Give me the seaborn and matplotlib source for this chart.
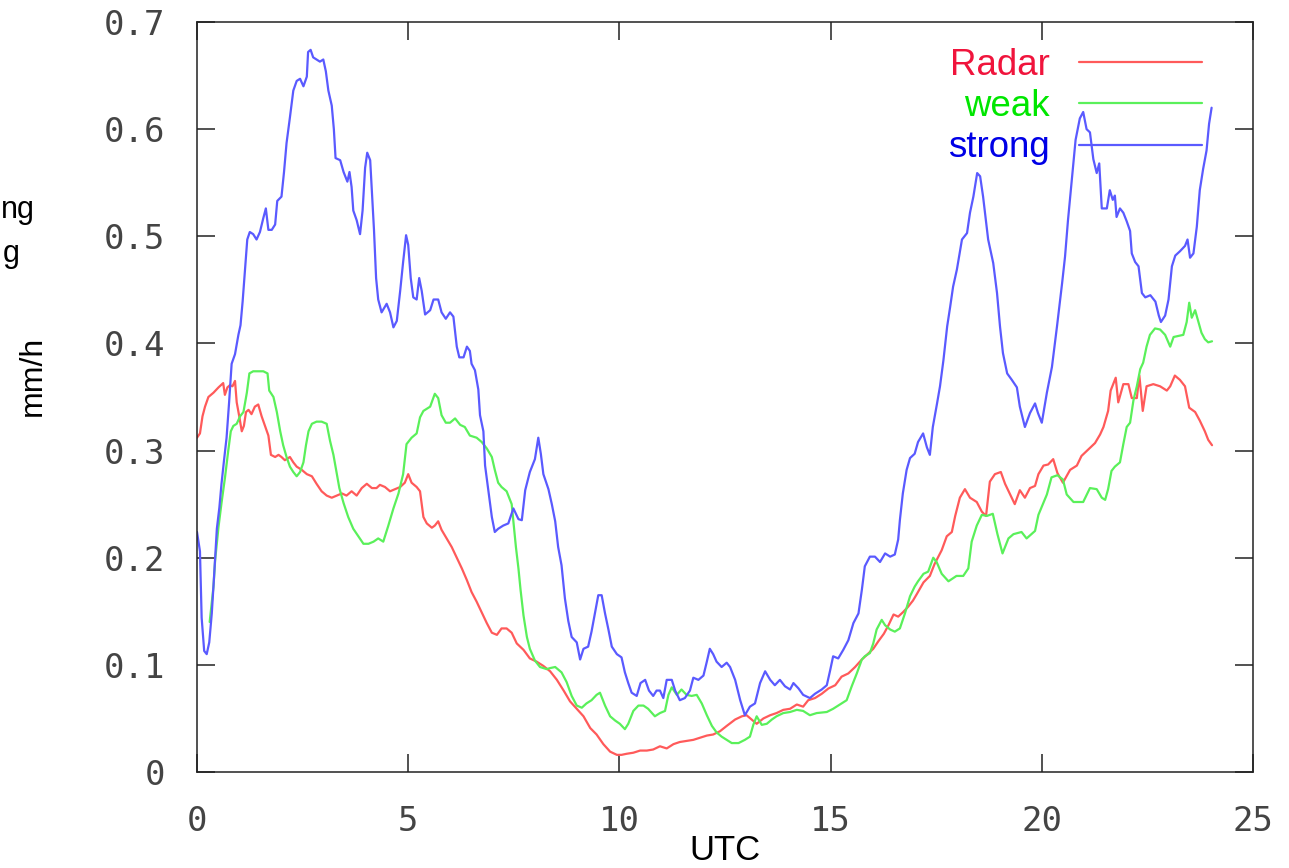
import matplotlib
matplotlib.use("Agg")
import numpy as np
import pandas as pd
import matplotlib.pyplot as plt
import seaborn as sns

# ---- data: hourly-smoothed precipitation rate (mm/h) versus time (UTC) ----
radar_t = [0.00, 0.07, 0.13, 0.19, 0.27, 0.39, 0.51, 0.62, 0.66, 0.72, 0.78, 0.84, 0.90, 0.94,
           1.00, 1.06, 1.11, 1.16, 1.22, 1.29, 1.37, 1.45, 1.53, 1.61, 1.69, 1.75, 1.85, 1.93,
           2.00, 2.08, 2.20, 2.28, 2.36, 2.48, 2.60, 2.72, 2.83, 2.95, 3.07, 3.19, 3.31, 3.43,
           3.54, 3.66, 3.78, 3.90, 4.02, 4.14, 4.25, 4.33, 4.45, 4.57, 4.69, 4.81, 4.92, 5.00,
           5.08, 5.20, 5.28, 5.36, 5.44, 5.56, 5.63, 5.71, 5.79, 5.91, 6.03, 6.15, 6.27, 6.39,
           6.50, 6.62, 6.74, 6.86, 6.98, 7.10, 7.21, 7.33, 7.45, 7.57, 7.73, 7.88, 8.04, 8.20,
           8.36, 8.52, 8.68, 8.83, 8.99, 9.15, 9.31, 9.46, 9.62, 9.78, 9.94, 10.05, 10.17, 10.33,
           10.49, 10.65, 10.80, 10.96, 11.12, 11.28, 11.43, 11.59, 11.75, 11.91, 12.07, 12.22,
           12.38, 12.54, 12.74, 12.90, 13.01, 13.13, 13.25, 13.41, 13.57, 13.72, 13.88, 14.04,
           14.20, 14.35, 14.47, 14.63, 14.79, 14.95, 15.11, 15.26, 15.42, 15.58, 15.74, 15.85,
           16.01, 16.13, 16.26, 16.37, 16.49, 16.60, 16.71, 16.83, 16.95, 17.04, 17.20, 17.35,
           17.46, 17.63, 17.75, 17.87, 17.95, 18.06, 18.18, 18.30, 18.46, 18.58, 18.68, 18.77,
           18.89, 19.03, 19.13, 19.25, 19.36, 19.48, 19.60, 19.72, 19.84, 19.92, 20.04, 20.15,
           20.27, 20.37, 20.50, 20.67, 20.83, 20.94, 21.10, 21.26, 21.38, 21.46, 21.57, 21.63,
           21.69, 21.75, 21.81, 21.93, 22.05, 22.13, 22.25, 22.31, 22.39, 22.48, 22.64, 22.80,
           22.96, 23.04, 23.15, 23.27, 23.39, 23.49, 23.63, 23.74, 23.86, 23.94, 24.03]
radar_v = [0.312, 0.316, 0.332, 0.341, 0.350, 0.354, 0.359, 0.363, 0.352, 0.359, 0.361, 0.360, 0.365, 0.345,
           0.332, 0.318, 0.323, 0.336, 0.338, 0.334, 0.341, 0.343, 0.332, 0.323, 0.314, 0.296, 0.294, 0.296,
           0.294, 0.291, 0.294, 0.289, 0.285, 0.282, 0.278, 0.276, 0.269, 0.262, 0.258, 0.256, 0.258, 0.260,
           0.258, 0.262, 0.258, 0.265, 0.269, 0.265, 0.265, 0.268, 0.266, 0.262, 0.264, 0.266, 0.270, 0.278,
           0.270, 0.266, 0.262, 0.238, 0.232, 0.228, 0.230, 0.234, 0.226, 0.218, 0.210, 0.200, 0.190, 0.179,
           0.168, 0.159, 0.149, 0.139, 0.130, 0.128, 0.134, 0.134, 0.130, 0.120, 0.114, 0.106, 0.103, 0.099,
           0.094, 0.086, 0.076, 0.066, 0.059, 0.052, 0.041, 0.035, 0.026, 0.019, 0.016, 0.016, 0.017, 0.018,
           0.020, 0.020, 0.021, 0.024, 0.022, 0.026, 0.028, 0.029, 0.030, 0.032, 0.034, 0.035,
           0.038, 0.043, 0.049, 0.052, 0.053, 0.049, 0.045, 0.050, 0.053, 0.055, 0.058, 0.059,
           0.063, 0.061, 0.067, 0.069, 0.073, 0.078, 0.081, 0.089, 0.092, 0.098, 0.105, 0.109,
           0.115, 0.122, 0.129, 0.137, 0.147, 0.145, 0.149, 0.154, 0.160, 0.166, 0.177, 0.183,
           0.194, 0.207, 0.220, 0.224, 0.239, 0.256, 0.264, 0.256, 0.252, 0.243, 0.239, 0.271,
           0.278, 0.280, 0.269, 0.259, 0.250, 0.263, 0.256, 0.265, 0.267, 0.278, 0.286, 0.287,
           0.292, 0.279, 0.270, 0.282, 0.286, 0.295, 0.301, 0.307, 0.315, 0.322, 0.337, 0.356,
           0.362, 0.368, 0.345, 0.362, 0.362, 0.349, 0.349, 0.370, 0.337, 0.360, 0.362, 0.360,
           0.356, 0.360, 0.370, 0.366, 0.360, 0.340, 0.336, 0.328, 0.318, 0.310, 0.305]

weak_t = [0.30, 0.39, 0.43, 0.51, 0.58, 0.66, 0.74, 0.80, 0.86, 0.94, 1.02, 1.10, 1.18, 1.24,
          1.33, 1.45, 1.57, 1.67, 1.71, 1.81, 1.89, 1.97, 2.04, 2.12, 2.20, 2.28, 2.36, 2.44,
          2.52, 2.58, 2.64, 2.72, 2.83, 2.95, 3.07, 3.15, 3.23, 3.31, 3.37, 3.47, 3.58, 3.70,
          3.82, 3.94, 4.06, 4.18, 4.29, 4.41, 4.53, 4.65, 4.77, 4.88, 4.96, 5.08, 5.20, 5.28,
          5.36, 5.52, 5.63, 5.71, 5.79, 5.89, 5.99, 6.11, 6.23, 6.34, 6.46, 6.62, 6.74, 6.86,
          6.98, 7.05, 7.13, 7.21, 7.33, 7.45, 7.50, 7.55, 7.61, 7.66, 7.73, 7.81, 7.88, 8.00,
          8.12, 8.28, 8.36, 8.48, 8.63, 8.75, 8.87, 8.99, 9.11, 9.22, 9.34, 9.46, 9.54, 9.66,
          9.78, 9.90, 10.01, 10.13, 10.21, 10.33, 10.45, 10.57, 10.68, 10.84, 10.96, 11.08,
          11.16, 11.24, 11.36, 11.47, 11.59, 11.71, 11.83, 11.95, 12.07, 12.19, 12.30, 12.42,
          12.54, 12.66, 12.82, 12.97, 13.09, 13.17, 13.25, 13.37, 13.49, 13.61, 13.72, 13.88,
          14.04, 14.20, 14.35, 14.51, 14.67, 14.91, 15.06, 15.22, 15.38, 15.50, 15.62, 15.74,
          15.81, 15.93, 16.01, 16.09, 16.21, 16.29, 16.41, 16.52, 16.64, 16.76, 16.88, 16.99,
          17.07, 17.20, 17.31, 17.43, 17.51, 17.63, 17.79, 17.98, 18.14, 18.26, 18.34, 18.46,
          18.58, 18.70, 18.84, 18.95, 19.07, 19.21, 19.33, 19.52, 19.64, 19.84, 19.92, 20.12,
          20.23, 20.37, 20.50, 20.59, 20.75, 20.98, 21.14, 21.30, 21.42, 21.50, 21.57, 21.65,
          21.73, 21.85, 21.93, 22.01, 22.09, 22.17, 22.25, 22.33, 22.40, 22.48, 22.56, 22.68,
          22.80, 22.92, 23.04, 23.12, 23.23, 23.35, 23.43, 23.49, 23.55, 23.63, 23.71, 23.78,
          23.86, 23.94, 24.03]
weak_v = [0.140, 0.173, 0.198, 0.229, 0.251, 0.274, 0.300, 0.318, 0.323, 0.325, 0.332, 0.336, 0.354, 0.372,
          0.374, 0.374, 0.374, 0.372, 0.356, 0.350, 0.336, 0.318, 0.305, 0.294, 0.285, 0.280, 0.276, 0.280,
          0.289, 0.305, 0.318, 0.325, 0.327, 0.327, 0.325, 0.309, 0.296, 0.278, 0.265, 0.251, 0.238, 0.227,
          0.220, 0.213, 0.213, 0.215, 0.218, 0.215, 0.230, 0.246, 0.260, 0.278, 0.306, 0.312, 0.316, 0.331,
          0.337, 0.341, 0.353, 0.349, 0.333, 0.326, 0.326, 0.330, 0.324, 0.322, 0.314, 0.312, 0.308, 0.302,
          0.294, 0.282, 0.270, 0.266, 0.262, 0.250, 0.230, 0.210, 0.190, 0.170, 0.146, 0.126, 0.115, 0.104,
          0.098, 0.096, 0.097, 0.098, 0.093, 0.084, 0.071, 0.062, 0.060, 0.064, 0.067, 0.072, 0.074, 0.062,
          0.052, 0.048, 0.045, 0.040, 0.045, 0.057, 0.062, 0.062, 0.059, 0.052, 0.055, 0.057,
          0.072, 0.079, 0.072, 0.077, 0.072, 0.071, 0.072, 0.064, 0.053, 0.043, 0.037, 0.033,
          0.030, 0.027, 0.027, 0.030, 0.033, 0.044, 0.052, 0.044, 0.045, 0.049, 0.052, 0.055,
          0.056, 0.058, 0.057, 0.053, 0.055, 0.056, 0.059, 0.063, 0.067, 0.080, 0.092, 0.105,
          0.108, 0.111, 0.120, 0.133, 0.142, 0.137, 0.133, 0.131, 0.134, 0.148, 0.164, 0.173,
          0.178, 0.185, 0.187, 0.200, 0.196, 0.185, 0.178, 0.183, 0.183, 0.190, 0.215, 0.230,
          0.240, 0.239, 0.241, 0.222, 0.204, 0.218, 0.222, 0.224, 0.218, 0.225, 0.240, 0.259,
          0.275, 0.277, 0.273, 0.259, 0.252, 0.252, 0.265, 0.264, 0.256, 0.254, 0.264, 0.281,
          0.285, 0.289, 0.306, 0.322, 0.326, 0.347, 0.360, 0.376, 0.382, 0.397, 0.408, 0.414,
          0.413, 0.408, 0.397, 0.406, 0.407, 0.408, 0.420, 0.438, 0.424, 0.431, 0.420, 0.410,
          0.404, 0.401, 0.402]

strong_t = [0.00, 0.07, 0.11, 0.17, 0.23, 0.29, 0.35, 0.40, 0.47, 0.53, 0.58, 0.64, 0.70, 0.76,
            0.82, 0.90, 0.98, 1.03, 1.08, 1.14, 1.19, 1.25, 1.33, 1.41, 1.49, 1.57, 1.63, 1.69,
            1.77, 1.85, 1.90, 2.00, 2.06, 2.12, 2.20, 2.28, 2.36, 2.44, 2.52, 2.60, 2.63, 2.69,
            2.75, 2.83, 2.91, 2.99, 3.05, 3.11, 3.19, 3.24, 3.28, 3.39, 3.47, 3.56, 3.61, 3.66,
            3.70, 3.78, 3.86, 3.92, 3.98, 4.03, 4.10, 4.14, 4.19, 4.24, 4.29, 4.37, 4.49, 4.57,
            4.65, 4.73, 4.81, 4.88, 4.95, 5.00, 5.06, 5.12, 5.20, 5.26, 5.32, 5.40, 5.52, 5.60,
            5.71, 5.79, 5.89, 5.99, 6.07, 6.15, 6.21, 6.31, 6.39, 6.46, 6.50, 6.58, 6.66, 6.70,
            6.78, 6.82, 6.90, 6.98, 7.05, 7.13, 7.25, 7.37, 7.49, 7.61, 7.69, 7.77, 7.88, 8.00,
            8.08, 8.14, 8.20, 8.32, 8.40, 8.48, 8.55, 8.63, 8.71, 8.79, 8.87, 8.99, 9.07, 9.15,
            9.26, 9.34, 9.42, 9.50, 9.58, 9.66, 9.74, 9.82, 9.94, 10.05, 10.13, 10.21, 10.29,
            10.41, 10.50, 10.61, 10.70, 10.80, 10.88, 10.96, 11.04, 11.12, 11.24, 11.32, 11.43,
            11.55, 11.67, 11.75, 11.87, 11.99, 12.07, 12.14, 12.22, 12.30, 12.42, 12.54, 12.62,
            12.74, 12.86, 12.97, 13.09, 13.21, 13.33, 13.45, 13.57, 13.68, 13.80, 13.92, 14.04,
            14.12, 14.24, 14.35, 14.51, 14.63, 14.79, 14.91, 14.99, 15.06, 15.18, 15.30, 15.42,
            15.54, 15.66, 15.74, 15.81, 15.93, 16.05, 16.17, 16.29, 16.41, 16.52, 16.60, 16.64,
            16.71, 16.80, 16.88, 16.99, 17.07, 17.19, 17.28, 17.35, 17.42, 17.52, 17.59, 17.67,
            17.76, 17.83, 17.90, 17.99, 18.11, 18.23, 18.30, 18.38, 18.47, 18.54, 18.61, 18.73,
            18.85, 18.94, 19.01, 19.08, 19.18, 19.29, 19.41, 19.48, 19.60, 19.72, 19.84, 19.91,
            20.00, 20.12, 20.24, 20.36, 20.48, 20.55, 20.62, 20.71, 20.80, 20.90, 20.98, 21.06,
            21.14, 21.22, 21.30, 21.36, 21.42, 21.54, 21.61, 21.68, 21.73, 21.77, 21.85, 21.93,
            22.01, 22.09, 22.13, 22.21, 22.29, 22.37, 22.45, 22.57, 22.69, 22.77, 22.82, 22.92,
            23.00, 23.08, 23.16, 23.27, 23.39, 23.45, 23.51, 23.59, 23.67, 23.74, 23.82, 23.90,
            23.96, 24.02]
strong_v = [0.224, 0.206, 0.144, 0.113, 0.110, 0.121, 0.148, 0.180, 0.227, 0.247, 0.269, 0.291, 0.312, 0.345,
            0.381, 0.390, 0.408, 0.417, 0.439, 0.470, 0.497, 0.504, 0.502, 0.497, 0.504, 0.517, 0.526, 0.506,
            0.506, 0.511, 0.533, 0.537, 0.560, 0.587, 0.611, 0.636, 0.645, 0.647, 0.640, 0.649, 0.672, 0.674,
            0.667, 0.665, 0.663, 0.665, 0.654, 0.636, 0.622, 0.600, 0.573, 0.571, 0.560, 0.551, 0.560, 0.546,
            0.524, 0.515, 0.502, 0.524, 0.564, 0.578, 0.571, 0.542, 0.506, 0.461, 0.441, 0.429, 0.437, 0.429,
            0.415, 0.421, 0.449, 0.476, 0.501, 0.492, 0.461, 0.443, 0.441, 0.461, 0.449, 0.427, 0.431, 0.441,
            0.441, 0.429, 0.423, 0.429, 0.425, 0.397, 0.387, 0.387, 0.397, 0.393, 0.381, 0.375, 0.357, 0.333,
            0.318, 0.286, 0.262, 0.238, 0.224, 0.227, 0.230, 0.232, 0.246, 0.236, 0.235, 0.263, 0.280, 0.292,
            0.312, 0.297, 0.278, 0.264, 0.250, 0.234, 0.210, 0.193, 0.162, 0.141, 0.126, 0.121, 0.105, 0.115,
            0.117, 0.131, 0.148, 0.165, 0.165, 0.148, 0.133, 0.117, 0.110, 0.107, 0.093, 0.083, 0.074,
            0.071, 0.083, 0.086, 0.076, 0.071, 0.076, 0.076, 0.069, 0.086, 0.086, 0.076, 0.067,
            0.069, 0.076, 0.088, 0.086, 0.090, 0.103, 0.115, 0.110, 0.103, 0.098, 0.102, 0.098,
            0.086, 0.067, 0.053, 0.061, 0.064, 0.083, 0.094, 0.086, 0.081, 0.086, 0.080, 0.077,
            0.083, 0.078, 0.072, 0.069, 0.073, 0.077, 0.081, 0.095, 0.108, 0.106, 0.114, 0.123,
            0.139, 0.148, 0.170, 0.192, 0.201, 0.201, 0.196, 0.204, 0.201, 0.203, 0.217, 0.235,
            0.260, 0.282, 0.293, 0.297, 0.308, 0.316, 0.303, 0.296, 0.322, 0.344, 0.360, 0.384,
            0.416, 0.434, 0.453, 0.469, 0.497, 0.503, 0.522, 0.537, 0.559, 0.556, 0.537, 0.497,
            0.475, 0.447, 0.416, 0.391, 0.372, 0.366, 0.359, 0.341, 0.322, 0.335, 0.344, 0.335,
            0.326, 0.354, 0.378, 0.416, 0.456, 0.481, 0.515, 0.553, 0.590, 0.610, 0.616, 0.600,
            0.597, 0.572, 0.559, 0.568, 0.526, 0.526, 0.543, 0.534, 0.538, 0.518, 0.526, 0.522,
            0.514, 0.505, 0.484, 0.476, 0.472, 0.447, 0.443, 0.445, 0.439, 0.426, 0.420, 0.426,
            0.441, 0.472, 0.482, 0.486, 0.491, 0.497, 0.480, 0.484, 0.509, 0.543, 0.563, 0.580,
            0.605, 0.620]

series_names = ["Radar", "weak", "strong"]
line_colors = ["#ff5a5a", "#5af05a", "#5a5aff"]
label_colors = ["#f0143c", "#00e600", "#0000e6"]

x_ticks = [0, 5, 10, 15, 20, 25]
y_ticks = [0.0, 0.1, 0.2, 0.3, 0.4, 0.5, 0.6, 0.7]
y_tick_labels = ["0", "0.1", "0.2", "0.3", "0.4", "0.5", "0.6", "0.7"]

# ---- long-form table ----
frames = []
for name, t, v in zip(series_names, [radar_t, weak_t, strong_t], [radar_v, weak_v, strong_v]):
    frames.append(pd.DataFrame({"UTC": t, "rate": v, "run": name}))
df = pd.concat(frames, ignore_index=True)

sns.set_style("ticks")
plt.rcParams["font.family"] = ["Liberation Sans", "DejaVu Sans"]

W, H = 1289, 868
fig = plt.figure(figsize=(W / 100, H / 100), dpi=100)
ax = fig.add_axes([197 / W, 1 - 772 / H, (1253 - 197) / W, (772 - 22) / H])

sns.lineplot(data=df, x="UTC", y="rate", hue="run", hue_order=series_names,
             palette=line_colors, estimator=None, sort=False, linewidth=1.6,
             ax=ax, legend=False)

ax.set_xlim(0, 25)
ax.set_ylim(0, 0.7)
ax.set_xticks(x_ticks)
ax.set_xticklabels([str(v) for v in x_ticks])
ax.set_yticks(y_ticks)
ax.set_yticklabels(y_tick_labels)
ax.set_xlabel("")
ax.set_ylabel("")

ax.tick_params(axis="both", direction="in", length=13, width=1.1, color="#222222",
               top=True, right=True, labelsize=24.5, labelcolor="#444444")
ax.tick_params(axis="x", pad=23.5)
ax.tick_params(axis="y", pad=23)
for lbl in ax.get_xticklabels() + ax.get_yticklabels():
    lbl.set_fontfamily("DejaVu Sans Mono")

for sp in ax.spines.values():
    sp.set_visible(True)
    sp.set_linewidth(1.1)
    sp.set_color("#222222")

# legend: label first, sample line to the right
handles = ax.get_lines()[:3]
leg = ax.legend(handles, series_names, loc="upper right",
                bbox_to_anchor=(1202 / W, 1 - 48 / H), bbox_transform=fig.transFigure,
                frameon=False, markerfirst=False, fontsize=26.4,
                handlelength=3.35, handletextpad=0.8, labelspacing=0.17,
                borderpad=0, borderaxespad=0)
for txt, c in zip(leg.get_texts(), label_colors):
    txt.set_color(c)

# axis titles
fig.text(725 / W, 1 - 851 / H, "UTC", ha="center", va="center", fontsize=25, color="black")
fig.text(33 / W, 1 - 376 / H, "mm/h", ha="center", va="center", rotation=90,
         fontsize=23, color="black")
fig.text(1 / W, 1 - 218 / H, "ng", ha="left", va="baseline", fontsize=22, color="black")
fig.text(3 / W, 1 - 262 / H, "g", ha="left", va="baseline", fontsize=22, color="black")

fig.savefig("out.png", dpi=100, facecolor="white")
